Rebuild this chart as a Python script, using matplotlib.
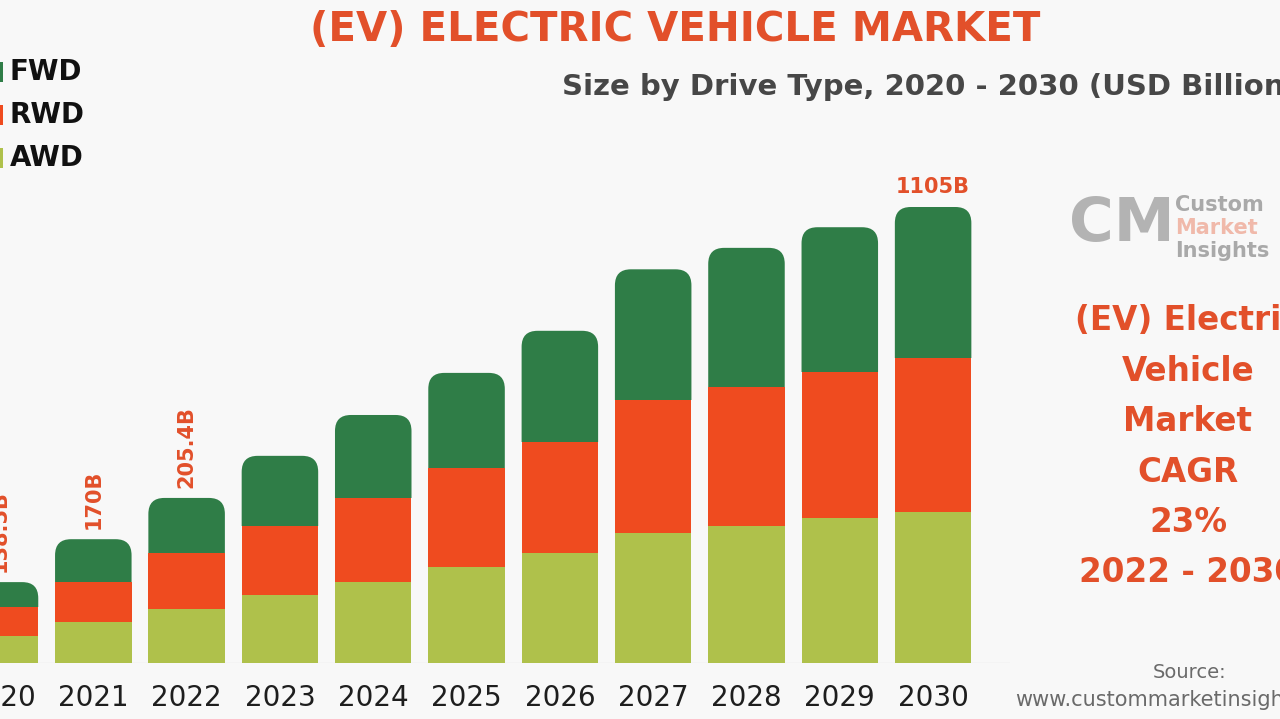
import matplotlib.pyplot as plt
from matplotlib.patches import FancyBboxPatch, Rectangle
import numpy as np

# market size by drive type, USD billion
years = ['2020', '2021', '2022', '2023', '2024', '2025', '2026', '2027', '2028', '2029', '2030']
awd = [65, 99, 131, 165, 196, 233, 267, 315, 332, 351, 366]
rwd = [70, 97, 136, 167, 204, 240, 269, 322, 337, 354, 373]
fwd = [61, 104, 133, 170, 201, 230, 269, 317, 337, 351, 366]
# value labels shown above some bars
value_labels = {0: '138.5B', 1: '170B', 2: '205.4B', 10: '1105B'}
cagr_lines = ['(EV) Electric', 'Vehicle', 'Market', 'CAGR', '23%', '2022 - 2030']

c_fwd = '#2f7d47'
c_rwd = '#ef4b1f'
c_awd = '#afc14b'
c_red = '#e2502a'
bg = '#f8f8f8'

W, H = 1280, 719
fig = plt.figure(figsize=(W / 100, H / 100), dpi=100, facecolor=bg)

# axes placed so that bars line up with the reference (2020 partly cut off)
px0, step = -5.3, 93.8
base_px, top_px, right_px = 663, 150, 1010
ax = fig.add_axes([0, (H - base_px) / H, right_px / W, (base_px - top_px) / H])
ax.set_facecolor('none')
xmin = (0 - px0) / step
xmax = (right_px - px0) / step
ymax = (base_px - top_px) * 1105 / 456
ax.set_xlim(xmin, xmax)
ax.set_ylim(0, ymax)

x = np.arange(len(years))
awd_a, rwd_a, fwd_a = np.array(awd), np.array(rwd), np.array(fwd)
low = awd_a + rwd_a
tot = low + fwd_a
w = 0.82

# lower segments as plain bars
ax.bar(x, awd_a, w, color=c_awd, linewidth=0)
ax.bar(x, rwd_a, w, bottom=awd_a, color=c_rwd, linewidth=0)

# top segment with rounded corners, clipped so only the top is rounded
r = 16 / step
asp = (16 * ymax / (base_px - top_px)) / r
for xi, b, t in zip(x, low, tot):
    p = FancyBboxPatch((xi - w / 2, 0), w, t,
                       boxstyle='round,pad=0,rounding_size=%f' % r,
                       mutation_aspect=asp, fc=c_fwd, ec='none')
    ax.add_patch(p)
    clip = Rectangle((xi - w, b), 2 * w, t, transform=ax.transData)
    p.set_clip_path(clip)

ax.axhline(0, color='#e4e4e4', lw=1, zorder=0)

for i, txt in value_labels.items():
    vert = i < 5
    ax.annotate(txt, (x[i], tot[i]), xytext=(0, 7), textcoords='offset points',
                ha='center', va='bottom', rotation=90 if vert else 0,
                fontsize=15, fontweight='bold', color=c_red)

ax.set_xticks(x, years)
ax.tick_params(axis='x', length=0, pad=15, labelsize=20, labelcolor='#1e1e1e')
ax.set_yticks([])
for s in ax.spines.values():
    s.set_visible(False)

# titles
fig.text(675 / W, 1 - 30 / H, '(EV) ELECTRIC VEHICLE MARKET', ha='center', va='center',
         fontsize=29, fontweight='bold', color=c_red)
fig.text(562 / W, 1 - 87 / H, 'Size by Drive Type, 2020 - 2030 (USD Billion)', ha='left',
         va='center', fontsize=21, fontweight='bold', color='#474747')

# legend drawn by hand, squares mostly off the left edge
for k, (name, col) in enumerate([('FWD', c_fwd), ('RWD', c_rwd), ('AWD', c_awd)]):
    yc = 72 + 43 * k
    fig.patches.append(Rectangle(((-16) / W, 1 - (yc + 10) / H), 19 / W, 20 / H,
                                 transform=fig.transFigure, fc=col, ec='none'))
    fig.text(10 / W, 1 - yc / H, name, ha='left', va='center', fontsize=20,
             fontweight='bold', color='#111111')

# logo
fig.text(1122 / W, 1 - 224 / H, 'CM', ha='center', va='center', fontsize=44,
         fontweight='bold', color='#b3b3b3')
fig.text(1175 / W, 1 - 205 / H, 'Custom', ha='left', va='center', fontsize=15,
         fontweight='bold', color='#a9a9a9')
fig.text(1175 / W, 1 - 228 / H, 'Market', ha='left', va='center', fontsize=15,
         fontweight='bold', color='#f0b9aa')
fig.text(1175 / W, 1 - 251 / H, 'Insights', ha='left', va='center', fontsize=15,
         fontweight='bold', color='#a9a9a9')

# CAGR block
for k, line in enumerate(cagr_lines):
    fig.text(1188 / W, 1 - (321 + 50.4 * k) / H, line, ha='center', va='center',
             fontsize=23.5, fontweight='bold', color=c_red)

fig.text(1190 / W, 1 - 672 / H, 'Source:', ha='center', va='center', fontsize=14,
         color='#6a6a6a')
fig.text(1015 / W, 1 - 700 / H, 'www.custommarketinsights.com', ha='left', va='center',
         fontsize=15, color='#6a6a6a')

fig.savefig('out.png', dpi=100, facecolor=bg)
